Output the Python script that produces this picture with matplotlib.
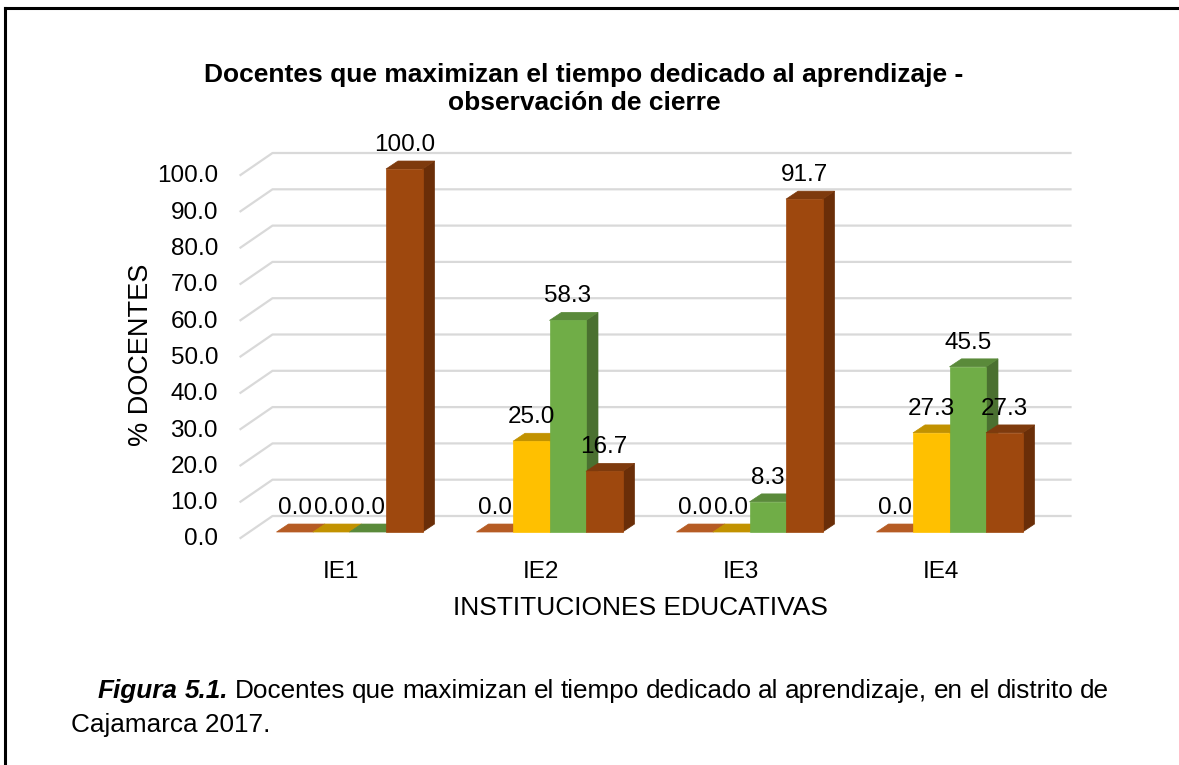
import matplotlib
matplotlib.use("Agg")
import matplotlib.pyplot as plt
from matplotlib.patches import Polygon
from matplotlib.lines import Line2D

plt.rcParams["font.family"] = ["Liberation Sans", "DejaVu Sans"]

# data
instituciones = ["IE1", "IE2", "IE3", "IE4"]
nivel_1 = [0.0, 0.0, 0.0, 0.0]
nivel_2 = [0.0, 25.0, 0.0, 27.3]
nivel_3 = [0.0, 58.3, 8.3, 45.5]
nivel_4 = [100.0, 16.7, 91.7, 27.3]
series = [nivel_1, nivel_2, nivel_3, nivel_4]
y_ticks = [0, 10, 20, 30, 40, 50, 60, 70, 80, 90, 100]

titulo = "Docentes que maximizan el tiempo dedicado al aprendizaje -\nobservación de cierre"
figura_num = "Figura 5.1."
leyenda_1 = "Docentes que maximizan el tiempo dedicado al aprendizaje, en el distrito de"
leyenda_2 = "Cajamarca 2017."

# front, top, side colours per series
colores = [
    ("#ED7D31", "#B65C24", "#8C4519"),
    ("#FFC000", "#C29200", "#9A7400"),
    ("#70AD47", "#5A8A3A", "#4A7030"),
    ("#9E480E", "#7E3A0D", "#6A2E08"),
]

W, H = 1179, 765
fig = plt.figure(figsize=(W / 100, H / 100), dpi=100)
ax = fig.add_axes([240.5 / W, (H - 538) / H, 800 / W, 363 / H])
ax.set_xlim(-0.5, 3.5)
ax.set_ylim(0, 100)
ax.axis("off")

# 3d offsets (category units / percent units)
wall_dx, wall_dy = 0.16, 6.06
bar_w = 0.1825
bar_front_dx, bar_base = 0.045, 1.65
bar_dx, bar_dy = 0.06, 2.2
wall_right = 3.65

# back wall grid + left wall diagonals
for v in y_ticks:
    ax.plot([-0.5, -0.5 + wall_dx, wall_right], [v, v + wall_dy, v + wall_dy],
            color="#d9d9d9", lw=1.6, clip_on=False, zorder=1)
    ax.text(-0.6125, v - 0.4, f"{v:.1f}", ha="right", va="center", fontsize=17.5)

z = 2
for i in range(len(instituciones)):
    for k, serie in enumerate(series):
        v = serie[i]
        front, top, side = colores[k]
        x0 = i + bar_front_dx + (k - 2) * bar_w
        y0 = bar_base
        side_poly = [(x0 + bar_w, y0), (x0 + bar_w + bar_dx, y0 + bar_dy),
                     (x0 + bar_w + bar_dx, y0 + v + bar_dy), (x0 + bar_w, y0 + v)]
        top_poly = [(x0, y0 + v), (x0 + bar_w, y0 + v),
                    (x0 + bar_w + bar_dx, y0 + v + bar_dy), (x0 + bar_dx, y0 + v + bar_dy)]
        ax.add_patch(Polygon(side_poly, closed=True, facecolor=side, edgecolor=side,
                             lw=0.5, zorder=z, clip_on=False))
        ax.add_patch(Polygon(top_poly, closed=True, facecolor=top, edgecolor=top,
                             lw=0.5, zorder=z + 1, clip_on=False))
        if v > 0:
            ax.bar(x0, v, width=bar_w, bottom=y0, align="edge", color=front,
                   edgecolor=front, lw=0.5, zorder=z + 2, clip_on=False)
        ax.text(x0 + bar_w / 2, y0 + v + bar_dy + 4.4, f"{v:.1f}", ha="center",
                va="center", fontsize=17.5, zorder=100)
        z += 3

for i, lab in enumerate(instituciones):
    ax.text(i, -9.4, lab, ha="center", va="center", fontsize=17.5)

ax.text(1.5, -19.2, "INSTITUCIONES EDUCATIVAS", ha="center", va="center", fontsize=19)
ax.text(-1.0, 50.4, "% DOCENTES", ha="center", va="center", rotation=90, fontsize=19.5)

fig.text(584 / W, 1 - 89 / H, titulo, ha="center", va="center", fontsize=19,
         fontweight="bold", linespacing=1.2)

# caption: first line (indented) fitted between x=98 and x=1109
renderer = fig.canvas.get_renderer()
tokens = [(w, True) for w in figura_num.split()] + [(w, False) for w in leyenda_1.split()]
y_cap = 1 - 691 / H
textos = []
for word, bold in tokens:
    t = fig.text(0, y_cap, word, ha="left", va="center", fontsize=18.8,
                 fontweight="bold" if bold else "normal",
                 style="italic" if bold else "normal")
    textos.append(t)
anchos = [t.get_window_extent(renderer=renderer).width for t in textos]
x_ini, x_fin = 98, 1109
espacio = (x_fin - x_ini - sum(anchos)) / (len(textos) - 1)
x = x_ini
for t, a in zip(textos, anchos):
    t.set_x(x / W)
    x += a + espacio
fig.text(71 / W, 1 - 725 / H, leyenda_2, ha="left", va="center", fontsize=18.8)

# frame (left and top)
fig.add_artist(Line2D([5 / W, 5 / W], [0, 1 - 8 / H], color="black", lw=2.2,
                      transform=fig.transFigure))
fig.add_artist(Line2D([5 / W, 1], [1 - 8 / H, 1 - 8 / H], color="black", lw=2.2,
                      transform=fig.transFigure))

fig.savefig("out.png", dpi=100)
